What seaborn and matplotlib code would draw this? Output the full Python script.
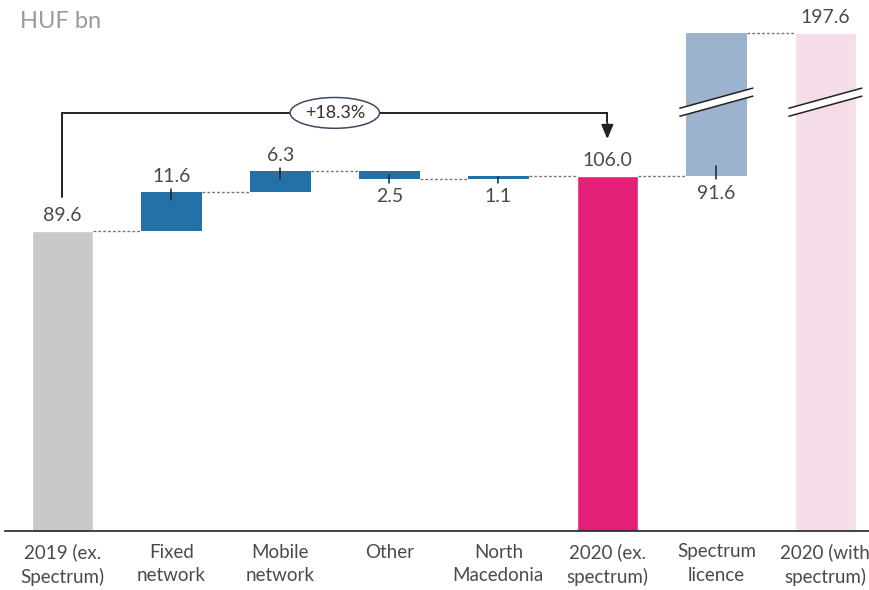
import numpy as np
import pandas as pd
import matplotlib
matplotlib.use("Agg")
import matplotlib.pyplot as plt
import seaborn as sns
from matplotlib.patches import Ellipse, Polygon

# dados do gráfico
categorias = ['2019 (ex.\nSpectrum)', 'Fixed\nnetwork', 'Mobile\nnetwork', 'Other',
              'North\nMacedonia', '2020 (ex.\nspectrum)', 'Spectrum\nlicence', '2020 (with\nspectrum)']
valores = [89.6, 11.6, 6.3, -2.5, 1.1, 106.0, 91.6, 197.6]
tipos = ['total', 'delta', 'delta', 'delta', 'delta', 'total', 'delta', 'total']
rotulos = ['89.6', '11.6', '6.3', '2.5', '1.1', '106.0', '91.6', '197.6']
crescimento = '+18.3%'
unidade = 'HUF bn'

# layout / estilo
cores = ['#c8c8c8', '#2471aa', '#2471aa', '#2471aa', '#2471aa', '#e41f76', '#9cb3cd', '#f4dce9']
lado_rotulo = ['above', 'above', 'above', 'below', 'below', 'above', 'below', 'above']
quebrado = [False, False, False, False, False, False, True, True]
topo_quebra = 148.7   # altura exibida para barras com eixo quebrado
largura = 0.56
cor_texto = '#4a4a4a'

# calcula base e topo (valores reais)
base, topo = [], []
acumulado = 0.0
for v, t in zip(valores, tipos):
    if t == 'total':
        base.append(0.0)
        topo.append(v)
        acumulado = v
    else:
        b = acumulado
        acumulado = acumulado + v
        base.append(min(b, acumulado))
        topo.append(max(b, acumulado))
# altura exibida (quebra de eixo)
topo_vis = [topo_quebra if q else t for t, q in zip(topo, quebrado)]

sns.set_theme(style='white')
plt.rcParams['font.family'] = ['Lato', 'DejaVu Sans']

fig = plt.figure(figsize=(8.69, 5.90), dpi=100)
ax = fig.add_axes([0.006, 0.1, 0.994, 0.9])

df = pd.DataFrame({'categoria': categorias,
                   'altura': [tv if t == 'total' else np.nan for tv, t in zip(topo_vis, tipos)]})
sns.barplot(data=df, x='categoria', y='altura', hue='categoria', order=categorias,
            palette=dict(zip(categorias, cores)), legend=False, width=largura,
            saturation=1, ax=ax)

# barras flutuantes
for i, t in enumerate(tipos):
    if t == 'delta':
        ax.bar(i, topo_vis[i] - base[i], bottom=base[i], width=largura,
               color=cores[i], linewidth=0, zorder=2)

px = 1 / 3.35  # um pixel em unidades de dado
# linhas tracejadas de conexão
for i in range(len(valores) - 1):
    if tipos[i] == 'total':
        nivel = topo_vis[i]
    else:
        nivel = topo_vis[i] if valores[i] > 0 else base[i]
    ax.plot([i + largura / 2, i + 1 - largura / 2], [nivel, nivel],
            color='#777777', lw=1, ls=(0, (2, 1.5)), zorder=1)

# rótulos e marcas
for i, (r, lado) in enumerate(zip(rotulos, lado_rotulo)):
    if lado == 'above':
        ax.text(i, topo_vis[i] + 7 * px, r, ha='center', va='bottom',
                fontsize=14, color=cor_texto)
        if tipos[i] == 'delta':
            ax.plot([i, i], [topo_vis[i] + 3 * px, topo_vis[i] - 8 * px],
                    color='#222222', lw=1.1, zorder=3)
    else:
        ax.text(i, base[i] - 9 * px, r, ha='center', va='top',
                fontsize=14, color=cor_texto)
        dentro = min(8 * px, (topo_vis[i] - base[i]) * 0.55)
        if quebrado[i]:
            dentro = 10 * px
        ax.plot([i, i], [base[i] - 3.5 * px, base[i] + dentro],
                color='#222222', lw=1.1, zorder=3)

# marcas de quebra
for i, q in enumerate(quebrado):
    if q:
        yc = 128.0
        dx = 0.335
        dy = 3.0
        gap = 2.4
        sup = [(i - dx, yc - dy + gap / 2), (i + dx, yc + dy + gap / 2)]
        inf = [(i - dx, yc - dy - gap / 2), (i + dx, yc + dy - gap / 2)]
        ax.add_patch(Polygon([inf[0], inf[1], sup[1], sup[0]], closed=True,
                             facecolor='white', edgecolor='none', zorder=4))
        for seg in (sup, inf):
            ax.plot([seg[0][0], seg[1][0]], [seg[0][1], seg[1][1]],
                    color='#222222', lw=1.1, zorder=5)

# colchete de crescimento
y_col = 124.8
ax.plot([0, 0, 5, 5], [99.7, y_col, y_col, 122], color='#222222', lw=1.4,
        solid_joinstyle='miter', zorder=3)
ax.annotate('', xy=(5, 116.2), xytext=(5, 122.5),
            arrowprops=dict(arrowstyle='-|>,head_length=0.7,head_width=0.3',
                            color='#222222', lw=1.4), zorder=3)
ax.add_patch(Ellipse((2.5, y_col), 0.82, 9.2, facecolor='white',
                     edgecolor='#3b4a63', lw=1.1, zorder=4))
ax.text(2.5, y_col, crescimento, ha='center', va='center', fontsize=13,
        color='#333333', zorder=5)

# eixos
ax.set_xlim(-0.523, 7.40)
ax.set_ylim(0, 158.5)
ax.set_xlabel('')
ax.set_ylabel('')
ax.set_yticks([])
ax.tick_params(axis='x', length=0, pad=9, labelsize=13.5, labelcolor=cor_texto)
for lab in ax.get_xticklabels():
    lab.set_linespacing(1.45)
for s in ['top', 'right', 'left']:
    ax.spines[s].set_visible(False)
ax.spines['bottom'].set_color('#222222')
ax.spines['bottom'].set_linewidth(1.2)

fig.text(20 / 869, 1 - 22 / 590, unidade, ha='left', va='center',
         fontsize=17, color='#9a9a9a')

fig.savefig('out.png', dpi=100)
